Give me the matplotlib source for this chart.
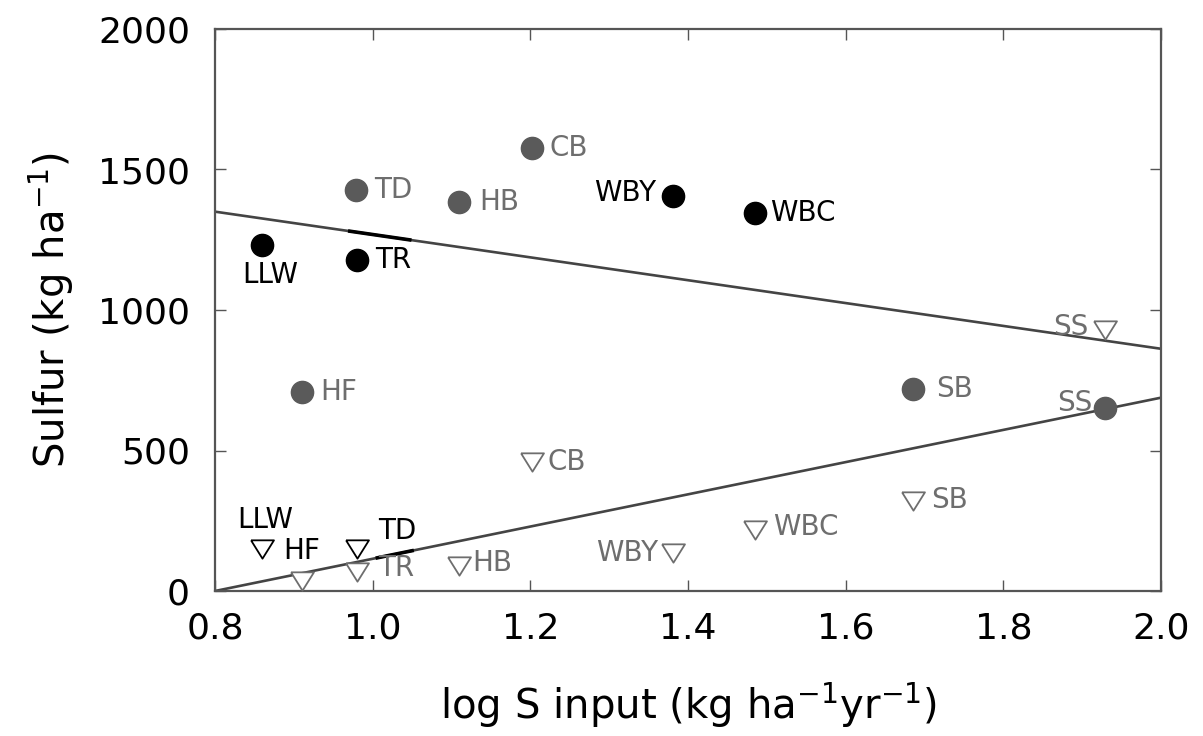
import matplotlib.pyplot as plt
import numpy as np

plt.rcParams['font.family'] = ['DejaVu Sans']

# filled circles (upper group)
circle_names = ['LLW', 'TR', 'WBY', 'WBC', 'TD', 'HB', 'CB', 'HF', 'SB', 'SS']
circle_x = [0.860, 0.980, 1.381, 1.485, 0.979, 1.110, 1.202, 0.910, 1.685, 1.929]
circle_y = [1232, 1178, 1406, 1346, 1428, 1385, 1577, 708, 718, 651]
circle_dark = [True, True, True, True, False, False, False, False, False, False]

# open triangles (lower group)
tri_names = ['LLW', 'HF', 'TD', 'TR', 'HB', 'CB', 'WBY', 'WBC', 'SB', 'SS']
tri_x = [0.860, 0.910, 0.980, 0.980, 1.110, 1.202, 1.381, 1.485, 1.685, 1.929]
tri_y = [150, 37, 150, 67, 90, 460, 136, 218, 320, 929]
tri_dark = [True, False, True, False, False, False, False, False, False, False]
tri_label_dark = [True, True, True, False, False, False, False, False, False, False]

# regression lines (end points)
fit_x = [0.8, 2.0]
fit_upper = [1350, 862]
fit_lower = [0, 688]

# label offsets in points (dx, dy, ha)
circle_off = [(6, -22, 'center'), (13, 0, 'left'), (-12, 2, 'right'), (11, 0, 'left'),
              (13, 0, 'left'), (14, 0, 'left'), (13, 0, 'left'), (13, 0, 'left'),
              (17, 0, 'left'), (-9, 4, 'right')]
tri_off = [(2, 21, 'center'), (0, 21, 'center'), (15, 13, 'left'), (15, 3, 'left'),
           (9, 2, 'left'), (11, 0, 'left'), (-11, 0, 'right'), (13, 2, 'left'),
           (13, 1, 'left'), (-12, 2, 'right')]

dark = 'black'
grey_pt = '#5a5a5a'
grey_txt = '#6e6e6e'
tri_marker = [(-1, 0.8), (1, 0.8), (0, -0.8), (-1, 0.8)]

fig = plt.figure(figsize=(12.03, 7.36), dpi=100)
ax = fig.add_axes([215 / 1203, 1 - 591 / 736, 946 / 1203, 562 / 736])

ax.plot(fit_x, fit_upper, color='#444444', lw=1.9, zorder=1)
ax.plot(fit_x, fit_lower, color='#444444', lw=1.9, zorder=1)
# short dark overdrawn bits on the lines
seg = np.array([0.971, 1.047])
ax.plot(seg, np.interp(seg, fit_x, fit_upper), color='black', lw=2.6, zorder=1.5)
seg2 = np.array([1.006, 1.05])
ax.plot(seg2, np.interp(seg2, fit_x, fit_lower), color='black', lw=2.6, zorder=1.5)

for i, name in enumerate(circle_names):
    c = dark if circle_dark[i] else grey_pt
    ax.plot(circle_x[i], circle_y[i], 'o', ms=16, color=c, mec=c, zorder=3)
    dx, dy, ha = circle_off[i]
    ax.annotate(name, (circle_x[i], circle_y[i]), xytext=(dx, dy), textcoords='offset points',
                ha=ha, va='center', fontsize=20, color=dark if circle_dark[i] else grey_txt)

for i, name in enumerate(tri_names):
    c = dark if tri_dark[i] else '#6e6e6e'
    ax.plot(tri_x[i], tri_y[i], marker=tri_marker, ms=16.5, mfc='white', mec=c,
            mew=1.3, ls='none', zorder=3)
    dx, dy, ha = tri_off[i]
    ax.annotate(name, (tri_x[i], tri_y[i]), xytext=(dx, dy), textcoords='offset points',
                ha=ha, va='center', fontsize=20, color=dark if tri_label_dark[i] else grey_txt)

ax.set_xlim(0.8, 2.0)
ax.set_ylim(0, 2000)
ax.set_xticks([0.8, 1.0, 1.2, 1.4, 1.6, 1.8, 2.0])
ax.set_xticklabels(['0.8', '1.0', '1.2', '1.4', '1.6', '1.8', '2.0'])
ax.set_yticks([0, 500, 1000, 1500, 2000])
ax.tick_params(direction='in', length=8, width=1, colors='#555555', labelcolor='black',
               labelsize=26, top=True, right=True)
ax.tick_params(axis='x', pad=15)
ax.tick_params(axis='y', pad=18)
for s in ax.spines.values():
    s.set_color('#555555')
    s.set_linewidth(1.6)

ax.set_xlabel('log S input (kg ha$^{-1}$yr$^{-1}$)', fontsize=29, labelpad=25)
ax.set_ylabel('Sulfur (kg ha$^{-1}$)', fontsize=29, labelpad=16)

fig.savefig('out.png', dpi=100)
